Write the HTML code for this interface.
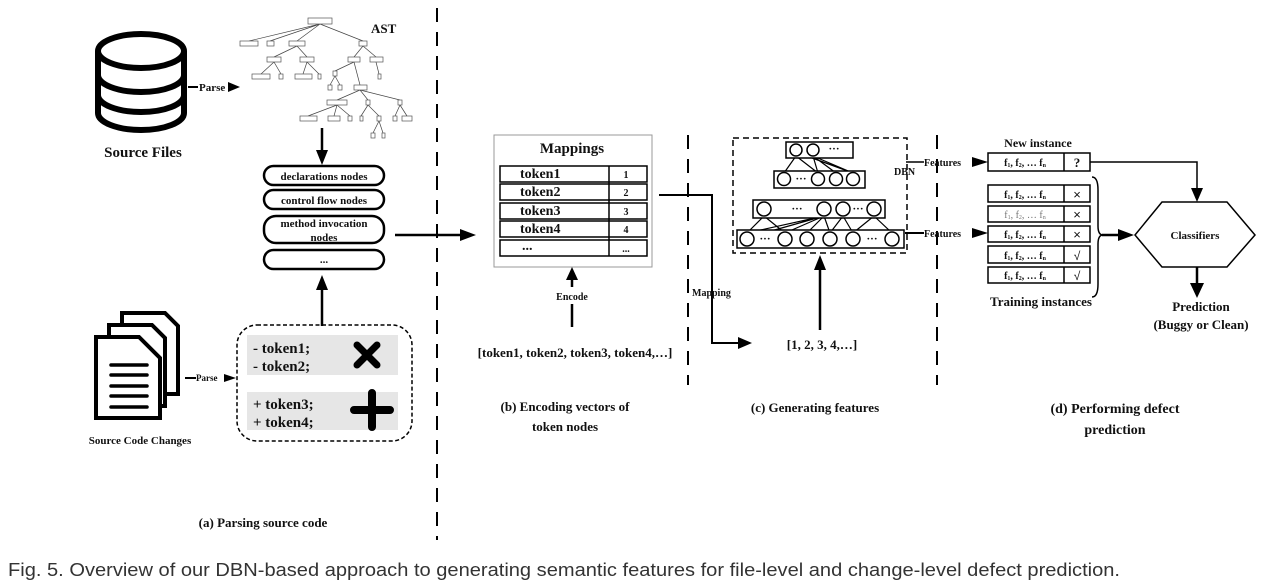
<!DOCTYPE html>
<html><head><meta charset="utf-8"><style>
html,body{margin:0;padding:0;background:#fff;width:1268px;height:584px;overflow:hidden}
svg{display:block}
.b{font-family:"Liberation Serif",serif;font-weight:bold;fill:#111}
.t{font-family:"Liberation Sans",sans-serif;font-size:3.5px;fill:#555}
</style></head><body>
<svg width="1268" height="584" viewBox="0 0 1268 584" xmlns="http://www.w3.org/2000/svg">
<defs>
<marker id="ah" viewBox="0 0 10 10" refX="10" refY="5" markerWidth="6" markerHeight="6" markerUnits="userSpaceOnUse" orient="auto"><path d="M0,0L10,5L0,10z" fill="#000"/></marker>
</defs>
<g stroke="#000" stroke-width="2" stroke-dasharray="14,10">
<line x1="437" y1="8" x2="437" y2="540"/>
<line x1="688" y1="135" x2="688" y2="385"/>
<line x1="937" y1="135" x2="937" y2="385"/>
</g>

<!-- cylinder -->
<g fill="none" stroke="#000" stroke-width="6">
<ellipse cx="141" cy="51" rx="43" ry="17"/>
<path d="M98,51V113A43,17 0 0 0 184,113V51"/>
<path d="M98,75A43,17 0 0 0 184,75"/>
<path d="M98,95A43,17 0 0 0 184,95"/>
</g>
<text x="143" y="157" class="b" font-size="15" text-anchor="middle">Source Files</text>
<line x1="188" y1="87" x2="198" y2="87" stroke="#000" stroke-width="2"/>
<text x="199" y="91" class="b" font-size="11">Parse</text>
<path d="M228,82L240,87L228,92z"/>

<!-- AST -->
<g stroke="#444" stroke-width="0.7" fill="none">
<path d="M320,24L249,41M320,24L270,41M320,24L297,41M320,24L363,41M297,46L274,57M297,46L307,57M274,62L261,74M274,62L281,74M307,62L303,74M307,62L319,74M363,46L354,57M363,46L376,57M354,62L335,71M354,62L360,85M376,62L379,74M335,76L330,85M335,76L340,85M360,90L337,100M360,90L368,100M360,90L400,100M337,105L308,116M337,105L334,116M337,105L350,116M368,105L361,116M368,105L379,116M379,121L373,133M379,121L383,133M400,105L395,116M400,105L407,116"/>
</g>
<g fill="#fff" stroke="#555" stroke-width="0.7">
<rect x="308" y="18" width="24" height="6"/>
<rect x="240" y="41" width="18" height="5"/><rect x="267" y="41" width="7" height="5"/><rect x="289" y="41" width="16" height="5"/><rect x="359" y="41" width="8" height="5"/>
<rect x="267" y="57" width="14" height="5"/><rect x="300" y="57" width="14" height="5"/><rect x="348" y="57" width="12" height="5"/><rect x="370" y="57" width="13" height="5"/>
<rect x="252" y="74" width="18" height="5"/><rect x="279" y="74" width="4" height="5"/><rect x="295" y="74" width="17" height="5"/><rect x="318" y="74" width="3" height="5"/><rect x="378" y="74" width="3" height="5"/><rect x="333" y="71" width="4" height="5"/>
<rect x="328" y="85" width="4" height="5"/><rect x="338" y="85" width="4" height="5"/><rect x="354" y="85" width="13" height="5"/>
<rect x="327" y="100" width="20" height="5"/><rect x="366" y="100" width="4" height="5"/><rect x="398" y="100" width="4" height="5"/>
<rect x="300" y="116" width="17" height="5"/><rect x="328" y="116" width="12" height="5"/><rect x="348" y="116" width="4" height="5"/><rect x="360" y="116" width="3" height="5"/><rect x="377" y="116" width="4" height="5"/><rect x="393" y="116" width="4" height="5"/><rect x="402" y="116" width="10" height="5"/>
<rect x="371" y="133" width="4" height="5"/><rect x="382" y="133" width="3" height="5"/>
</g>
<text x="371" y="33" class="b" font-size="13">AST</text>
<line x1="322" y1="128" x2="322" y2="152" stroke="#000" stroke-width="2.5"/>
<path d="M316,150L322,165L328,150z"/>

<!-- node boxes -->
<g fill="#fff" stroke="#000" stroke-width="2.5">
<rect x="264" y="166" width="120" height="19" rx="9.5"/>
<rect x="264" y="190" width="120" height="19" rx="9.5"/>
<rect x="264" y="216" width="120" height="27" rx="12"/>
<rect x="264" y="250" width="120" height="19" rx="9.5"/>
</g>
<g class="b" font-size="11" text-anchor="middle">
<text x="324" y="180">declarations nodes</text>
<text x="324" y="204">control flow nodes</text>
<text x="324" y="227">method invocation</text>
<text x="324" y="241">nodes</text>
<text x="324" y="263">...</text>
</g>
<line x1="322" y1="326" x2="322" y2="288" stroke="#000" stroke-width="2.5"/>
<path d="M316,290L322,275L328,290z"/>

<!-- changes box -->
<rect x="237" y="325" width="175" height="116" rx="20" fill="none" stroke="#000" stroke-width="1.5" stroke-dasharray="4,2.5"/>
<rect x="247" y="335" width="151" height="40" fill="#e6e6e6"/>
<rect x="247" y="392" width="151" height="38" fill="#e6e6e6"/>
<g class="b" font-size="15">
<text x="253" y="353">- token1;</text>
<text x="253" y="371">- token2;</text>
<text x="253" y="409">+ token3;</text>
<text x="253" y="427">+ token4;</text>
</g>
<path d="M357,345L377,365M377,345L357,365" stroke="#000" stroke-width="7" stroke-linecap="round"/>
<path d="M372,393V427M354,410H390" stroke="#000" stroke-width="8" stroke-linecap="round"/>

<!-- docs icon -->
<g fill="#fff" stroke="#000" stroke-width="4">
<path d="M122,313H165L178,326V394H122z"/>
<path d="M109,325H152L165,338V406H109z"/>
<path d="M96,337H139L160,358V418H96z"/>
</g>
<g stroke="#000" stroke-width="3.5" stroke-linecap="round">
<line x1="111" y1="365" x2="147" y2="365"/><line x1="111" y1="375" x2="147" y2="375"/><line x1="111" y1="386" x2="147" y2="386"/><line x1="111" y1="396" x2="147" y2="396"/><line x1="111" y1="407" x2="147" y2="407"/>
</g>
<text x="140" y="444" class="b" font-size="11" text-anchor="middle">Source Code Changes</text>
<line x1="185" y1="378" x2="196" y2="378" stroke="#000" stroke-width="2"/>
<text x="196" y="381" class="b" font-size="9">Parse</text>
<path d="M224,374L236,378L224,382z"/>

<text x="263" y="527" class="b" font-size="13" text-anchor="middle">(a) Parsing source code</text>

<!-- arrow to mappings -->
<line x1="395" y1="235" x2="462" y2="235" stroke="#000" stroke-width="2.5"/>
<path d="M460,229L476,235L460,241z"/>

<!-- mappings -->
<rect x="494" y="135" width="158" height="132" fill="#fff" stroke="#999" stroke-width="1"/>
<text x="572" y="153" class="b" font-size="15" text-anchor="middle">Mappings</text>
<g fill="#fff" stroke="#000" stroke-width="1.5">
<rect x="500" y="166" width="147" height="16"/><rect x="500" y="184" width="147" height="16"/><rect x="500" y="203" width="147" height="16"/><rect x="500" y="221" width="147" height="16"/><rect x="500" y="240" width="147" height="16"/>
<line x1="609" y1="166" x2="609" y2="256"/>
</g>
<g class="b" font-size="14">
<text x="520" y="178">token1</text><text x="520" y="196">token2</text><text x="520" y="215">token3</text><text x="520" y="233">token4</text><text x="522" y="250">...</text>
</g>
<g class="b" font-size="10" text-anchor="middle">
<text x="626" y="178">1</text><text x="626" y="196">2</text><text x="626" y="215">3</text><text x="626" y="233">4</text><text x="626" y="252">...</text>
</g>
<path d="M566,280L572,267L578,280z"/>
<line x1="572" y1="279" x2="572" y2="287" stroke="#000" stroke-width="2.5"/>
<text x="572" y="300" class="b" font-size="10" text-anchor="middle">Encode</text>
<line x1="572" y1="304" x2="572" y2="327" stroke="#000" stroke-width="2.5"/>
<text x="575" y="357" class="b" font-size="13" text-anchor="middle">[token1, token2, token3, token4,…]</text>
<text x="565" y="411" class="b" font-size="13" text-anchor="middle">(b) Encoding vectors of</text>
<text x="565" y="431" class="b" font-size="13" text-anchor="middle">token nodes</text>

<!-- mapping connector -->
<path d="M659,195H712V343H740" fill="none" stroke="#000" stroke-width="2"/>
<path d="M738,337L752,343L738,349z"/>
<text x="692" y="296" class="b" font-size="10">Mapping</text>
<text x="822" y="349" class="b" font-size="13" text-anchor="middle">[1, 2, 3, 4,…]</text>
<line x1="820" y1="330" x2="820" y2="268" stroke="#000" stroke-width="2.5"/>
<path d="M814,270L820,255L826,270z"/>
<text x="815" y="412" class="b" font-size="13" text-anchor="middle">(c) Generating features</text>

<!-- DBN -->
<rect x="733" y="138" width="174" height="115" fill="none" stroke="#000" stroke-width="1.5" stroke-dasharray="6,4"/>
<text x="894" y="175" class="b" font-size="10">DBN</text>
<g stroke="#000" stroke-width="1.2" fill="none">
<path d="M796,156L784,173M796,156L818,173M813,156L818,173M813,156L836,173M813,156L853,173M804,155L853,173"/>
<path d="M764,216L747,233M764,216L785,233M824,216L747,233M824,216L764,233M824,216L785,233M824,216L807,233M824,216L830,233M843,216L830,233M843,216L853,233M874,216L853,233M874,216L892,233"/>
</g>
<g fill="#fff" stroke="#000" stroke-width="1.5">
<rect x="786" y="142" width="67" height="16"/>
<rect x="774" y="171" width="91" height="17"/>
<rect x="753" y="200" width="132" height="18"/>
<rect x="737" y="230" width="167" height="18"/>
<circle cx="796" cy="150" r="6"/><circle cx="813" cy="150" r="6"/>
<circle cx="784" cy="179" r="6.5"/><circle cx="818" cy="179" r="6.5"/><circle cx="836" cy="179" r="6.5"/><circle cx="853" cy="179" r="6.5"/>
<circle cx="764" cy="209" r="7"/><circle cx="824" cy="209" r="7"/><circle cx="843" cy="209" r="7"/><circle cx="874" cy="209" r="7"/>
<circle cx="747" cy="239" r="7"/><circle cx="785" cy="239" r="7"/><circle cx="807" cy="239" r="7"/><circle cx="830" cy="239" r="7"/><circle cx="853" cy="239" r="7"/><circle cx="892" cy="239" r="7"/>
</g>
<g class="b" font-size="11" text-anchor="middle">
<text x="834" y="152">···</text><text x="801" y="182">···</text><text x="797" y="212">···</text><text x="858" y="212">···</text><text x="765" y="242">···</text><text x="872" y="242">···</text>
</g>

<!-- features -->
<line x1="906" y1="162" x2="924" y2="162" stroke="#000" stroke-width="1.5"/>
<text x="924" y="166" class="b" font-size="10">Features</text>
<path d="M972,157L988,162L972,167z"/>
<line x1="905" y1="233" x2="924" y2="233" stroke="#000" stroke-width="2"/>
<text x="924" y="237" class="b" font-size="10">Features</text>
<path d="M972,228L988,233L972,238z"/>

<text x="1038" y="147" class="b" font-size="12" text-anchor="middle">New instance</text>
<g fill="#fff" stroke="#000" stroke-width="1.5">
<rect x="988" y="153" width="102" height="18"/><line x1="1064" y1="153" x2="1064" y2="171"/>
<rect x="988" y="185" width="102" height="17"/><line x1="1064" y1="185" x2="1064" y2="202"/>
<rect x="988" y="206" width="102" height="16"/><line x1="1064" y1="206" x2="1064" y2="222"/>
<rect x="988" y="226" width="102" height="16"/><line x1="1064" y1="226" x2="1064" y2="242"/>
<rect x="988" y="246" width="102" height="17"/><line x1="1064" y1="246" x2="1064" y2="263"/>
<rect x="988" y="267" width="102" height="16"/><line x1="1064" y1="267" x2="1064" y2="283"/>
</g>
<g class="b" font-size="10" text-anchor="middle">
<text x="1025" y="166">f<tspan font-size="6" dy="1">1</tspan><tspan dy="-1">, f</tspan><tspan font-size="6" dy="1">2</tspan><tspan dy="-1">, … f</tspan><tspan font-size="6" dy="1">n</tspan></text>
<text x="1025" y="198">f<tspan font-size="6" dy="1">1</tspan><tspan dy="-1">, f</tspan><tspan font-size="6" dy="1">2</tspan><tspan dy="-1">, … f</tspan><tspan font-size="6" dy="1">n</tspan></text>
<text x="1025" y="218" fill="#777" font-weight="normal">f<tspan font-size="6" dy="1">1</tspan><tspan dy="-1">, f</tspan><tspan font-size="6" dy="1">2</tspan><tspan dy="-1">, … f</tspan><tspan font-size="6" dy="1">n</tspan></text>
<text x="1025" y="238">f<tspan font-size="6" dy="1">1</tspan><tspan dy="-1">, f</tspan><tspan font-size="6" dy="1">2</tspan><tspan dy="-1">, … f</tspan><tspan font-size="6" dy="1">n</tspan></text>
<text x="1025" y="259">f<tspan font-size="6" dy="1">1</tspan><tspan dy="-1">, f</tspan><tspan font-size="6" dy="1">2</tspan><tspan dy="-1">, … f</tspan><tspan font-size="6" dy="1">n</tspan></text>
<text x="1025" y="279">f<tspan font-size="6" dy="1">1</tspan><tspan dy="-1">, f</tspan><tspan font-size="6" dy="1">2</tspan><tspan dy="-1">, … f</tspan><tspan font-size="6" dy="1">n</tspan></text>
<text x="1077" y="167" font-size="13">?</text>
</g>
<g font-family="Liberation Sans,sans-serif" font-size="13" text-anchor="middle" fill="#111">
<text x="1077" y="199">×</text><text x="1077" y="219">×</text><text x="1077" y="239">×</text><text x="1077" y="260" font-size="12">√</text><text x="1077" y="280" font-size="12">√</text>
</g>
<path d="M1092,177Q1098,177 1098,190V226Q1098,235 1103,235Q1098,235 1098,244V284Q1098,297 1092,297" fill="none" stroke="#000" stroke-width="1.5"/>
<line x1="1102" y1="235" x2="1120" y2="235" stroke="#000" stroke-width="2.5"/>
<path d="M1118,229L1134,235L1118,241z"/>
<text x="1041" y="306" class="b" font-size="13" text-anchor="middle">Training instances</text>

<path d="M1135,235L1162,202H1227L1255,235L1227,267H1162z" fill="#fff" stroke="#000" stroke-width="1.5"/>
<text x="1195" y="239" class="b" font-size="11" text-anchor="middle">Classifiers</text>
<path d="M1090,162H1197V190" fill="none" stroke="#000" stroke-width="1.5"/>
<path d="M1191,188L1197,202L1203,188z"/>
<line x1="1197" y1="267" x2="1197" y2="285" stroke="#000" stroke-width="2.5"/>
<path d="M1190,283L1197,298L1204,283z"/>
<text x="1201" y="311" class="b" font-size="13" text-anchor="middle">Prediction</text>
<text x="1201" y="329" class="b" font-size="13" text-anchor="middle">(Buggy or Clean)</text>
<text x="1115" y="413" class="b" font-size="14" text-anchor="middle">(d) Performing defect</text>
<text x="1115" y="434" class="b" font-size="14" text-anchor="middle">prediction</text>

<text x="8" y="576" font-family="Liberation Sans,sans-serif" font-size="18.5" fill="#333" textLength="1112" lengthAdjust="spacingAndGlyphs">Fig. 5. Overview of our DBN-based approach to generating semantic features for file-level and change-level defect prediction.</text>
</svg>
</body></html>
